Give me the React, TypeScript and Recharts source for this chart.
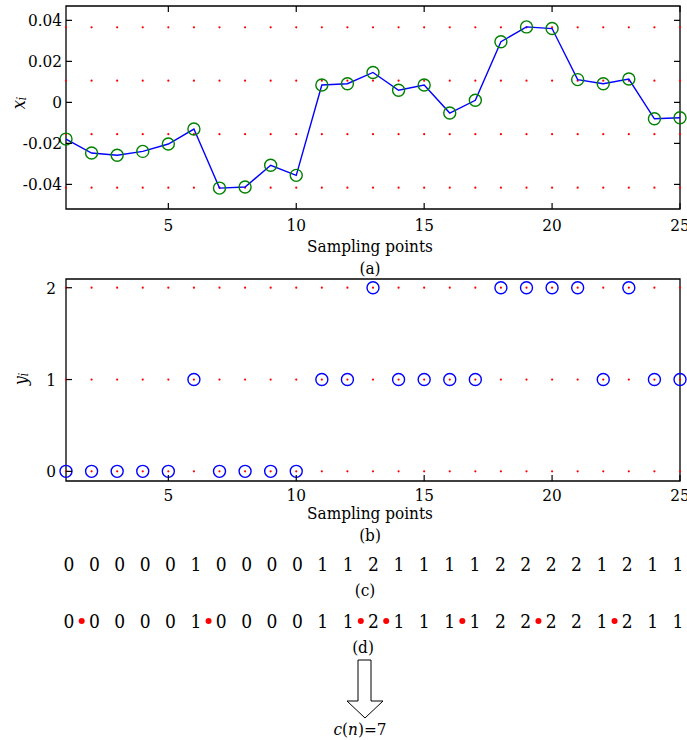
import { ScatterChart, Scatter, XAxis, YAxis, ReferenceArea, Label } from 'recharts'

const SAMPLES = [1, 2, 3, 4, 5, 6, 7, 8, 9, 10, 11, 12, 13, 14, 15, 16, 17, 18, 19, 20, 21, 22, 23, 24, 25]
const X_VALUES = [
  -0.0179, -0.0247, -0.0258, -0.0239, -0.0203, -0.013, -0.0418, -0.0413, -0.0307, -0.0356,
  0.0085, 0.0091, 0.0146, 0.0059, 0.0085, -0.0052, 0.001, 0.0296, 0.0368, 0.036,
  0.0111, 0.0091, 0.0114, -0.008, -0.0075,
]
const X_LEVELS = [0.0366, 0.0106, -0.0155, -0.0416]
const Y_CODES = [0, 0, 0, 0, 0, 1, 0, 0, 0, 0, 1, 1, 2, 1, 1, 1, 1, 2, 2, 2, 2, 1, 2, 1, 1]
const Y_LEVELS = [0, 1, 2]
const MARKS = [1.5, 6.5, 12.5, 13.5, 16.5, 19.5, 22.5]

const SAMPLE_TICKS = [5, 10, 15, 20, 25]
const XA_TICKS = [-0.04, -0.02, 0, 0.02, 0.04]
const YB_TICKS = [0, 1, 2]
const XA_DOMAIN = [-0.052, 0.047]
const YB_DOMAIN = [-0.105, 2.095]

// no Times-like face resolves here, so a condensed DejaVu serif stands in
const FONT = '"DejaVu Serif Condensed", "DejaVu Serif", serif'
const txt: any = { fontFamily: FONT, fontStretch: 'condensed', fontSize: 17, fill: '#000' }

const seriesA = SAMPLES.map((s, i) => ({ s, v: X_VALUES[i] }))
const gridA = X_LEVELS.flatMap((v) => SAMPLES.map((s) => ({ s, v })))
const seriesB = SAMPLES.map((s, i) => ({ s, v: Y_CODES[i] }))
const gridB = Y_LEVELS.flatMap((v) => SAMPLES.map((s) => ({ s, v })))
const rowC = SAMPLES.map((s, i) => ({ s, r: 1, c: Y_CODES[i] }))
const rowD = SAMPLES.map((s, i) => ({ s, r: 0, c: Y_CODES[i] }))
const marks = MARKS.map((s) => ({ s, r: 0 }))

function XTick({ x, y, payload, top, dy }: any) {
  return (
    <g>
      <line x1={x} x2={x} y1={y} y2={y - 6} stroke="#000" strokeWidth={1.2} />
      {top != null && <line x1={x} x2={x} y1={top} y2={top + 6} stroke="#000" strokeWidth={1.2} />}
      <text x={x} y={y + dy} textAnchor="middle" dominantBaseline="central" style={txt}>
        {payload.value}
      </text>
    </g>
  )
}

function YTick({ x, y, payload, right, gap }: any) {
  return (
    <g>
      <line x1={x} x2={x + 6} y1={y} y2={y} stroke="#000" strokeWidth={1.2} />
      {right != null && <line x1={right} x2={right - 6} y1={y} y2={y} stroke="#000" strokeWidth={1.2} />}
      <text x={x - gap} y={y} textAnchor="end" dominantBaseline="central" style={txt}>
        {String(payload.value)}
      </text>
    </g>
  )
}

function XTitle({ viewBox, cap, d1, d2 }: any) {
  const cx = viewBox.x + viewBox.width / 2 - 3
  return (
    <g>
      <text x={cx} y={viewBox.y + d1} textAnchor="middle" dominantBaseline="central" style={txt}>Sampling points</text>
      <text x={cx} y={viewBox.y + d2} textAnchor="middle" dominantBaseline="central" style={txt}>{cap}</text>
    </g>
  )
}

function YTitle({ sym, x, y }: any) {
  return (
    <text
      x={x}
      y={y}
      transform={`rotate(-90, ${x}, ${y})`}
      textAnchor="middle"
      dominantBaseline="central"
      style={{ ...txt, fontSize: 18, fontStyle: 'italic' }}
    >
      {sym}
      <tspan fontSize={12} dy={4}>i</tspan>
    </text>
  )
}

const redDot = (r: number) => (p: any) => <circle cx={p.cx} cy={p.cy} r={r} fill="#ff0000" />
const ring = (color: string) => (p: any) => (
  <circle cx={p.cx} cy={p.cy} r={6} fill="none" stroke={color} strokeWidth={1.4} />
)
const digit = (p: any) => (
  <text x={p.cx} y={p.cy} textAnchor="middle" dominantBaseline="central" style={{ ...txt, fontSize: 19 }}>
    {p.payload.c}
  </text>
)

export default function App() {
  return (
    <div style={{ position: 'absolute', left: 0, top: 0, width: 687, height: 740, background: '#fff' }}>
      <div style={{ position: 'absolute', left: 0, top: 0 }}>
        <ScatterChart width={687} height={280} margin={{ top: 6, right: 7, bottom: 0, left: 0 }}>
          <XAxis
            type="number"
            dataKey="s"
            domain={[1, 25]}
            ticks={SAMPLE_TICKS}
            interval={0}
            height={71}
            axisLine={false}
            tickLine={false}
            tickSize={0}
            tickMargin={0}
            tick={(p: any) => <XTick {...p} top={6} dy={16} />}
          >
            <Label content={(p: any) => <XTitle {...p} cap="(a)" d1={37} d2={59} />} />
          </XAxis>
          <YAxis
            type="number"
            dataKey="v"
            domain={XA_DOMAIN}
            ticks={XA_TICKS}
            interval={0}
            width={66}
            axisLine={false}
            tickLine={false}
            tickSize={0}
            tickMargin={0}
            tick={(p: any) => <YTick {...p} right={680} gap={4} />}
          >
            <Label content={() => <YTitle sym="x" x={18} y={103} />} />
          </YAxis>
          <Scatter data={gridA} shape={redDot(1.1)} isAnimationActive={false} />
          <Scatter
            data={seriesA}
            line={{ stroke: '#0000ff', strokeWidth: 1.4 }}
            lineType="joint"
            shape={ring('#008000')}
            isAnimationActive={false}
          />
          <ReferenceArea x1={1} x2={25} y1={XA_DOMAIN[0]} y2={XA_DOMAIN[1]} fill="none" stroke="#000" strokeWidth={1.3} ifOverflow="visible" />
        </ScatterChart>
      </div>

      <div style={{ position: 'absolute', left: 0, top: 270 }}>
        <ScatterChart width={687} height={280} margin={{ top: 9, right: 7, bottom: 0, left: 0 }}>
          <XAxis
            type="number"
            dataKey="s"
            domain={[1, 25]}
            ticks={SAMPLE_TICKS}
            interval={0}
            height={69}
            axisLine={false}
            tickLine={false}
            tickSize={0}
            tickMargin={0}
            tick={(p: any) => <XTick {...p} dy={14} />}
          >
            <Label content={(p: any) => <XTitle {...p} cap="(b)" d1={32} d2={54} />} />
          </XAxis>
          <YAxis
            type="number"
            dataKey="v"
            domain={YB_DOMAIN}
            ticks={YB_TICKS}
            interval={0}
            width={66}
            axisLine={false}
            tickLine={false}
            tickSize={0}
            tickMargin={0}
            tick={(p: any) => <YTick {...p} gap={10} />}
          >
            <Label content={() => <YTitle sym="y" x={20} y={109} />} />
          </YAxis>
          <Scatter data={gridB} shape={redDot(1.1)} isAnimationActive={false} />
          <Scatter data={seriesB} shape={ring('#0000ff')} isAnimationActive={false} />
          <ReferenceArea x1={1} x2={25} y1={YB_DOMAIN[0]} y2={YB_DOMAIN[1]} fill="none" stroke="#000" strokeWidth={1.3} ifOverflow="visible" />
        </ScatterChart>
      </div>

      <div style={{ position: 'absolute', left: 0, top: 540 }}>
        <ScatterChart width={687} height={115} margin={{ top: 24, right: 9, bottom: 34, left: 69 }}>
          <XAxis type="number" dataKey="s" domain={[1, 25]} hide />
          <YAxis type="number" dataKey="r" domain={[0, 1]} hide />
          <Scatter data={rowC} shape={digit} isAnimationActive={false} />
          <Scatter data={rowD} shape={digit} isAnimationActive={false} />
          <Scatter data={marks} shape={redDot(3)} isAnimationActive={false} />
        </ScatterChart>
      </div>

      <svg width={687} height={740} style={{ position: 'absolute', left: 0, top: 0, pointerEvents: 'none' }}>
        <text x={365} y={590} textAnchor="middle" dominantBaseline="central" style={txt}>(c)</text>
        <text x={363} y={647} textAnchor="middle" dominantBaseline="central" style={txt}>(d)</text>
        <text x={360} y={729} textAnchor="middle" dominantBaseline="central" style={txt}>
          <tspan fontStyle="italic">c</tspan>(<tspan fontStyle="italic">n</tspan>)={marks.length}
        </text>
        <polygon
          points="358,660 371,660 371,701 383,701 365,718 347,701 358,701"
          fill="#fff"
          stroke="#000"
          strokeWidth={1}
        />
      </svg>
    </div>
  )
}
